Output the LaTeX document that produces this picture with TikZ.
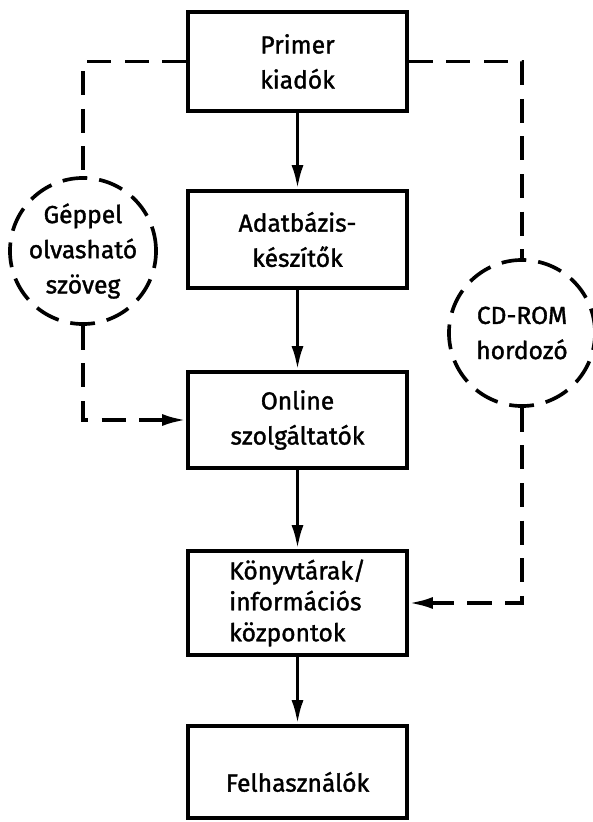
\documentclass[tikz,border=0pt]{standalone}
\usepackage{fontspec}
\setmainfont{Fira Sans}[FakeBold=1.4]
\usetikzlibrary{arrows.meta,positioning,shapes.geometric}

\begin{document}
\begin{tikzpicture}[x=0.025cm,y=-0.025cm,font=\fontsize{17.5}{25}\selectfont]

        % Setup the styles for the boxes and the circles
        \tikzset{box style/.style={rectangle,
                                   minimum width=5.475cm,
                                   line width=2.6pt,
                                   draw=black,
                                   align=center},
                 medium style/.style={circle,
                                   minimum size=3.65cm,
                                   inner sep=0pt,
                                   line width=2.6pt,
                                   dash pattern=on 0.62cm off 0.3cm,
                                   draw=black,
                                   align=center},
                 tip/.style={-{Latex[length=6mm,width=3mm]}},
                 flow/.style={tip, line width=2.6pt, draw=black},
                 dashflow/.style={line width=2.6pt, draw=black,
                                  dash pattern=on 0.6cm off 0.34cm}}

        \useasboundingbox (0,0) rectangle (592,822);

        % Draw the boxes
        \node[box style, minimum height=2.475cm] at (297.5, 61.5)  (prim)   {Primer\\kiadók};
        \node[box style, minimum height=2.425cm] at (297.5, 239.5) (adat)   {Adatbázis-\\készítők};
        \node[box style, minimum height=2.4cm]   at (297.5, 420)   (online) {Online\\szolgáltatók};
        \node[box style, minimum height=2.6cm, align=left,
              font=\fontsize{17.5}{22}\selectfont] at (297.5, 603) (konyv) {Könyvtárak/\\információs\\központok};
        \node[box style, minimum height=2.3cm]   at (297.5, 772)   (felh)   {\raisebox{-0.49cm}[0pt][0pt]{Felhasználók}};

        % Draw the media
        \node[medium style] at (83, 251)  (geppel) {Géppel\\olvasható\\szöveg};
        \node[medium style] at (522, 333) (cdrom)  {CD-ROM\\hordozó};

        % Connect the boxes with arrows
        \draw[flow] (prim) -- (adat);
        \draw[flow] (adat) -- (online);
        \draw[flow] (online) -- (konyv);
        \draw[flow] (konyv) -- (felh);

        % Dashed routes through the media
        \draw[dashflow] (prim.west) -| (geppel.north);
        \draw[dashflow, tip] (geppel.south) |- (online.west);
        \draw[dashflow] (prim.east) -| (cdrom.north);
        \draw[dashflow, tip] (cdrom.south) |- (konyv.east);
    \end{tikzpicture}
\end{document}
